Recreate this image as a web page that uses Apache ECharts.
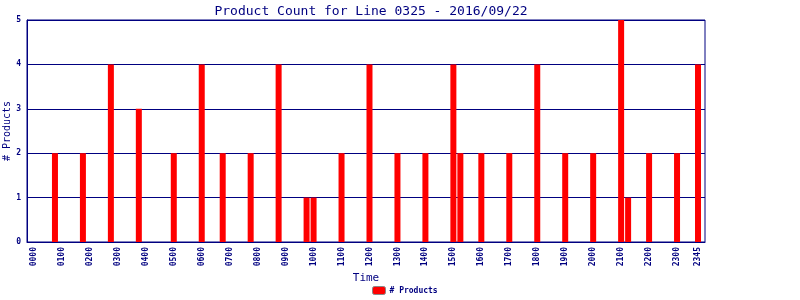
<!DOCTYPE html>
<html>
<head>
<meta charset="utf-8">
<script src="https://cdn.jsdelivr.net/npm/echarts@6/dist/echarts.min.js"></script>
<style>html,body{margin:0;padding:0;background:#fff}#c{width:800px;height:300px}</style>
</head>
<body>
<div id="c"></div>
<script>
var times = ["0045","0145","0245","0345","0500","0600","0645","0745","0845","0945","1000","1100","1200","1300","1400","1500","1515","1600","1700","1800","1900","2000","2100","2115","2200","2300","2345"];
var counts = [2,2,4,3,2,4,2,2,4,1,1,2,4,2,2,4,2,2,2,4,2,2,5,1,2,2,4];
var tickLabels = ["0000","0100","0200","0300","0400","0500","0600","0700","0800","0900","1000","1100","1200","1300","1400","1500","1600","1700","1800","1900","2000","2100","2200","2300","2345"];
var titleText = "Product Count for Line 0325 - 2016/09/22";
var seriesName = "# Products";

function toMin(s){ return parseInt(s.slice(0,2),10)*60 + parseInt(s.slice(2),10); }
function toLabel(m){ var h=Math.floor(m/60), mm=m%60; return (h<10?'0':'')+h+(mm<10?'0':'')+mm; }

var navy = '#000080';
var font = 'DejaVu Sans Mono';
var chart = echarts.init(document.getElementById('c'), null, {renderer:'canvas'});
chart.setOption({
  animation:false,
  backgroundColor:'#fff',
  title:{text:titleText,left:366,top:0,textAlign:'center',
    textStyle:{color:navy,fontFamily:font,fontSize:13,fontWeight:'normal'}},
  legend:{data:[seriesName],bottom:0,left:367,itemWidth:13,itemHeight:8,itemGap:4,
    textStyle:{color:navy,fontFamily:font,fontSize:8,fontWeight:'bold',padding:[0,0,0,-1]},
    itemStyle:{borderColor:'#888',borderWidth:1}},
  grid:{left:27,right:95,top:20,bottom:58,containLabel:false,outerBoundsMode:'none',
    show:true,borderColor:navy,borderWidth:1,backgroundColor:'transparent'},
  xAxis:{type:'value',min:-15,max:1440,
    name:'Time',nameLocation:'middle',nameGap:31,nameMoveOverlap:false,
    nameTextStyle:{color:navy,fontFamily:font,fontSize:11},
    axisLine:{show:true,onZero:false,lineStyle:{color:navy,width:1}},
    axisTick:{show:false},splitLine:{show:false},
    axisLabel:{customValues:tickLabels.map(toMin),rotate:90,margin:5,color:navy,fontFamily:font,fontSize:8,fontWeight:'bold',
      formatter:function(v){return toLabel(v);}}},
  yAxis:{type:'value',min:0,max:5,interval:1,
    name:seriesName,nameLocation:'middle',nameGap:15,nameMoveOverlap:false,
    nameTextStyle:{color:navy,fontFamily:font,fontSize:10},
    axisLine:{show:true,onZero:false,lineStyle:{color:navy,width:1}},
    axisTick:{show:false},
    splitLine:{show:true,lineStyle:{color:navy,width:1}},
    axisLabel:{margin:6,color:navy,fontFamily:font,fontSize:8,fontWeight:'bold'}},
  series:[{name:seriesName,type:'bar',barWidth:6,itemStyle:{color:'#ff0000'},
    data:times.map(function(t,i){return [toMin(t),counts[i]];})}]
});
</script>
</body>
</html>
